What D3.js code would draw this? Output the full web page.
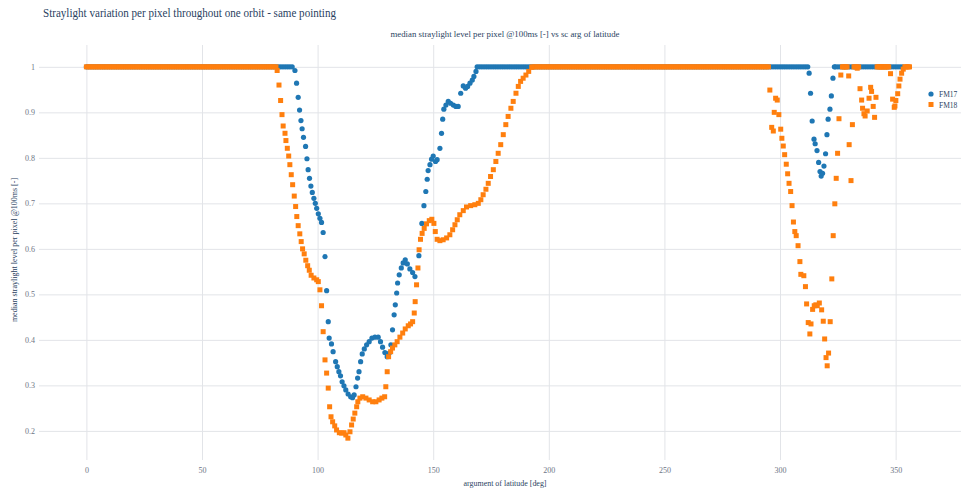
<!DOCTYPE html>
<html>
<head>
<meta charset="utf-8">
<script src="https://cdn.jsdelivr.net/npm/d3@7"></script>
<style>
  html, body { margin: 0; padding: 0; background: #fff; overflow: hidden; }
  svg { display: block; }
</style>
</head>
<body>
<svg id="chart" width="961" height="489"></svg>
<script>
// ---- Data -----------------------------------------------------------------
const seriesNames = ["FM17", "FM18"];
const xTicks = [0, 50, 100, 150, 200, 250, 300, 350];
const yTicks = [0.2, 0.3, 0.4, 0.5, 0.6, 0.7, 0.8, 0.9, 1];

// Arguments of latitude [deg] where the median level is saturated at 1
const fm17Saturated = [
  0,1,2,3,4,5,6,7,8,9,10,11,12,13,14,15,16,17,18,19,20,21,22,23,24,25,26,27,28,29,
  30,31,32,33,34,35,36,37,38,39,40,41,42,43,44,45,46,47,48,49,50,51,52,53,54,55,56,57,58,59,
  60,61,62,63,64,65,66,67,68,69,70,71,72,73,74,75,76,77,78,79,80,81,82,83,84,85,86,87,88,89,
  169,170,171,172,173,174,175,176,177,178,179,180,181,182,183,184,185,186,187,188,189,190,
  191,192,193,194,195,196,197,198,199,200,201,202,203,204,205,206,207,208,209,210,211,212,
  213,214,215,216,217,218,219,220,221,222,223,224,225,226,227,228,229,230,231,232,233,234,
  235,236,237,238,239,240,241,242,243,244,245,246,247,248,249,250,251,252,253,254,255,256,
  257,258,259,260,261,262,263,264,265,266,267,268,269,270,271,272,273,274,275,276,277,278,
  279,280,281,282,283,284,285,286,287,288,289,290,291,292,293,294,295,296,297,298,299,300,
  301,302,303,304,305,306,307,308,309,310,311,312,
  323.5,324,325,326,327,328,329,330,331,332,333,334,335,336,337,338,339,340,341,342,343,
  344,345,346,347,348,349,350,351,352,353
];
const fm18Saturated = [
  0,1,2,3,4,5,6,7,8,9,10,11,12,13,14,15,16,17,18,19,20,21,22,23,24,25,26,27,28,29,
  30,31,32,33,34,35,36,37,38,39,40,41,42,43,44,45,46,47,48,49,50,51,52,53,54,55,56,57,58,59,
  60,61,62,63,64,65,66,67,68,69,70,71,72,73,74,75,76,77,78,79,80,81,82,
  193,194,195,196,197,198,199,200,201,202,203,204,205,206,207,208,209,210,211,212,
  213,214,215,216,217,218,219,220,221,222,223,224,225,226,227,228,229,230,231,232,233,234,
  235,236,237,238,239,240,241,242,243,244,245,246,247,248,249,250,251,252,253,254,255,256,
  257,258,259,260,261,262,263,264,265,266,267,268,269,270,271,272,273,274,275,276,277,278,
  279,280,281,282,283,284,285,286,287,288,289,290,291,292,293,294,295,
  327,327.5,328,328.5,329,332,332.5,333,334,342,342.5,343,343.5,344,344.5,345,345.5,346,
  346.5,347,354,354.5,355,355.5,356
];

// [argument of latitude, median level] below saturation
const fm17Points = [
  [90.2,0.992],[90.9,0.964],[91.6,0.933],[92.2,0.905],[92.8,0.882],[93.3,0.864],[93.9,0.845],
  [94.8,0.825],[95.4,0.798],[95.9,0.774],[96.5,0.755],[97.1,0.738],[97.7,0.724],[98.4,0.711],
  [99.0,0.700],[99.6,0.689],[100.3,0.677],[101.0,0.667],[101.7,0.658],[102.4,0.636],[103.2,0.583],
  [103.9,0.508],[104.6,0.440],[105.0,0.404],[106.0,0.391],[106.7,0.374],[107.8,0.352],[108.5,0.341],
  [109.2,0.330],[109.9,0.321],[110.6,0.308],[111.4,0.299],[112.2,0.290],[113.2,0.281],[114.3,0.275],
  [115.1,0.273],[115.8,0.279],[116.6,0.297],[117.3,0.316],[117.9,0.330],[118.6,0.352],[119.3,0.369],
  [120.2,0.380],[121.2,0.389],[122.3,0.396],[123.5,0.404],[124.8,0.406],[126.2,0.406],[127.2,0.396],
  [128.1,0.384],[129.1,0.372],[130.1,0.363],[131.0,0.371],[131.7,0.389],[132.4,0.422],[133.1,0.455],
  [133.6,0.477],[134.2,0.503],[134.6,0.525],[135.3,0.543],[136.2,0.558],[137.0,0.569],[137.9,0.576],
  [138.8,0.567],[139.9,0.556],[141.1,0.548],[142.1,0.539],[143.8,0.585],[145.1,0.656],[146.0,0.695],
  [146.8,0.726],[147.4,0.753],[147.8,0.772],[148.6,0.785],[149.3,0.797],[150.0,0.804],[151.0,0.792],
  [151.7,0.796],[152.9,0.821],[153.6,0.854],[154.1,0.885],[154.6,0.907],[155.5,0.916],[156.5,0.924],
  [157.5,0.920],[158.7,0.916],[159.8,0.913],[160.8,0.913],[161.9,0.942],[163.0,0.958],[164.0,0.953],
  [164.9,0.957],[165.9,0.964],[166.9,0.971],[167.6,0.979],[168.5,0.990],
  [312.6,0.986],[313.2,0.942],[313.9,0.881],[314.7,0.841],[315.2,0.831],[316.0,0.816],[316.7,0.790],
  [317.3,0.770],[317.8,0.760],[318.4,0.766],[319.0,0.782],[319.7,0.809],[320.3,0.851],[320.8,0.885],
  [321.6,0.907],[322.2,0.936],[322.9,0.975]
];
const fm18Points = [
  [82.5,0.992],[83.3,0.960],[84.0,0.926],[84.6,0.895],[85.1,0.870],[85.9,0.854],[86.3,0.838],
  [86.9,0.821],[87.5,0.804],[88.0,0.785],[88.6,0.763],[89.2,0.741],[89.9,0.716],[90.5,0.693],
  [91.0,0.671],[91.6,0.651],[92.3,0.633],[92.9,0.616],[93.5,0.600],[94.2,0.589],[94.9,0.575],
  [95.7,0.563],[96.4,0.553],[97.2,0.542],[98.4,0.536],[99.6,0.532],[100.3,0.528],[101.0,0.510],
  [101.7,0.475],[102.4,0.418],[103.2,0.356],[103.9,0.327],[104.6,0.294],[105.2,0.253],[105.8,0.231],
  [106.5,0.220],[107.4,0.211],[108.2,0.202],[109.4,0.196],[110.4,0.195],[111.4,0.196],[112.2,0.191],
  [113.1,0.184],[114.0,0.198],[114.7,0.213],[115.4,0.226],[116.1,0.239],[116.9,0.253],[117.4,0.264],
  [118.3,0.272],[119.5,0.275],[120.9,0.272],[122.3,0.268],[123.8,0.264],[125.2,0.264],[126.6,0.268],
  [127.8,0.272],[129.0,0.275],[129.5,0.297],[130.1,0.330],[130.7,0.363],[131.6,0.374],[132.4,0.382],
  [133.4,0.389],[134.4,0.396],[135.6,0.406],[136.8,0.415],[137.9,0.424],[139.2,0.431],[140.2,0.435],
  [141.1,0.440],[141.8,0.459],[142.2,0.484],[142.8,0.521],[143.4,0.558],[143.9,0.598],[144.5,0.621],
  [145.2,0.634],[146.1,0.645],[147.1,0.655],[148.3,0.662],[149.4,0.665],[150.3,0.656],[150.9,0.638],
  [151.7,0.621],[152.9,0.618],[154.3,0.620],[155.8,0.624],[157.2,0.631],[158.4,0.642],[159.4,0.653],
  [160.4,0.664],[161.5,0.675],[163.0,0.684],[164.4,0.692],[166.2,0.695],[168.0,0.697],[169.5,0.700],
  [170.6,0.708],[171.6,0.719],[172.8,0.731],[173.8,0.744],[174.8,0.759],[176.0,0.774],[177.1,0.792],
  [178.1,0.810],[179.2,0.829],[180.3,0.851],[181.4,0.873],[182.4,0.891],[183.6,0.909],[184.6,0.924],
  [185.8,0.942],[186.8,0.957],[187.8,0.968],[188.9,0.975],[190.1,0.982],[191.3,0.990],[192.6,0.999],
  [295.6,0.949],[296.4,0.867],[297.1,0.859],[297.5,0.900],[298.1,0.931],[298.8,0.927],[299.5,0.895],
  [300.3,0.863],[300.8,0.843],[301.4,0.826],[302.0,0.807],[302.7,0.786],[303.3,0.765],[303.9,0.744],
  [304.6,0.726],[305.2,0.695],[305.8,0.659],[306.4,0.638],[307.0,0.629],[307.8,0.607],[308.6,0.572],
  [309.0,0.544],[310.3,0.541],[311.0,0.517],[311.5,0.479],[312.2,0.438],[312.9,0.413],[313.4,0.435],
  [314.1,0.467],[314.8,0.475],[315.5,0.477],[316.1,0.475],[317.0,0.481],[318.0,0.466],[318.7,0.441],
  [319.3,0.402],[319.9,0.361],[320.4,0.343],[321.0,0.371],[321.7,0.440],[322.4,0.534],[323.0,0.629],
  [323.7,0.699],[324.3,0.755],[324.9,0.810],[325.5,0.886],[326.3,0.982],[329.7,0.980],[329.9,0.829],
  [330.7,0.750],[331.3,0.873],[333.4,0.997],[334.6,0.952],[335.3,0.927],[335.7,0.909],[336.3,0.897],
  [336.8,0.892],[337.7,0.903],[338.5,0.931],[339.2,0.955],[339.6,0.946],[340.3,0.913],[340.9,0.889],
  [341.5,0.933],[347.8,0.985],[348.7,0.929],[349.4,0.911],[349.7,0.914],[350.1,0.926],[350.9,0.941],
  [351.4,0.958],[351.9,0.973],[352.6,0.986],[353.3,0.995]
];

// ---- Layout ---------------------------------------------------------------
const FONT = "'Liberation Serif', 'Times New Roman', serif";
const TEXT = "#2a3f5f";
const TICK = "#6e7585";
const GRID = "#e2e4e8";
const COLORS = ["#1f77b4", "#ff7f0e"];
const plot = { left: 39, right: 971, top: 45, bottom: 460 };

const svg = d3.select("#chart");
svg.append("rect").attr("width", 961).attr("height", 489).attr("fill", "#fff");

const x = d3.scaleLinear().domain([-20.5, 382.6]).range([plot.left, plot.right]);
const y = d3.scaleLinear().domain([0.136, 1.048]).range([plot.bottom, plot.top]);
const fmt = d3.format("~g");

// Grid + tick labels
const xAxis = svg.append("g")
  .attr("transform", `translate(0,${plot.bottom})`)
  .call(d3.axisBottom(x).tickValues(xTicks).tickFormat(fmt)
    .tickSize(-(plot.bottom - plot.top)).tickPadding(7));
const yAxis = svg.append("g")
  .attr("transform", `translate(${plot.left},0)`)
  .call(d3.axisLeft(y).tickValues(yTicks).tickFormat(fmt)
    .tickSize(-(plot.right - plot.left)).tickPadding(4));

[xAxis, yAxis].forEach(g => {
  g.select(".domain").remove();
  g.selectAll(".tick line").attr("stroke", GRID).attr("stroke-width", 1);
  g.selectAll(".tick text")
    .attr("fill", TICK)
    .style("font-family", FONT)
    .style("font-size", "8px");
});

// Markers: FM17 circles, FM18 squares drawn on top
const toRows = (sat, pts) => sat.map(a => [a, 1]).concat(pts);
const fm17 = toRows(fm17Saturated, fm17Points);
const fm18 = toRows(fm18Saturated, fm18Points);

svg.append("g").selectAll("circle").data(fm17).join("circle")
  .attr("cx", d => x(d[0])).attr("cy", d => y(d[1])).attr("r", 2.6)
  .attr("fill", COLORS[0]);

const sq = 5;
svg.append("g").selectAll("rect").data(fm18).join("rect")
  .attr("x", d => x(d[0]) - sq / 2).attr("y", d => y(d[1]) - sq / 2)
  .attr("width", sq).attr("height", sq)
  .attr("fill", COLORS[1]);

// Titles
svg.append("text")
  .attr("x", 43).attr("y", 17)
  .attr("textLength", 293).attr("lengthAdjust", "spacingAndGlyphs")
  .style("font-family", FONT).style("font-size", "12.5px").attr("fill", TEXT)
  .text("Straylight variation per pixel throughout one orbit - same pointing");

svg.append("text")
  .attr("x", 505).attr("y", 36.5).attr("text-anchor", "middle")
  .attr("textLength", 229).attr("lengthAdjust", "spacingAndGlyphs")
  .style("font-family", FONT).style("font-size", "9px").attr("fill", TEXT)
  .text("median straylight level per pixel @100ms [-] vs sc arg of latitude");

svg.append("text")
  .attr("x", 505).attr("y", 486).attr("text-anchor", "middle")
  .attr("textLength", 83).attr("lengthAdjust", "spacingAndGlyphs")
  .style("font-family", FONT).style("font-size", "8.5px").attr("fill", TEXT)
  .text("argument of latitude [deg]");

svg.append("text")
  .attr("transform", "translate(17,250) rotate(-90)").attr("text-anchor", "middle")
  .style("font-family", FONT).style("font-size", "8px").attr("fill", TEXT)
  .text("median straylight level per pixel @100ms [-]");

// Legend
const legend = svg.append("g").attr("transform", "translate(931,0)");
legend.append("rect").attr("x", -6).attr("y", 86).attr("width", 36).attr("height", 26).attr("fill", "#fff");
legend.append("circle").attr("cx", 0).attr("cy", 94).attr("r", 2.6).attr("fill", COLORS[0]);
legend.append("rect").attr("x", -sq / 2).attr("y", 104.5 - sq / 2).attr("width", sq).attr("height", sq).attr("fill", COLORS[1]);
legend.selectAll("text.lbl").data(seriesNames).join("text").attr("class", "lbl")
  .attr("x", 8).attr("y", (d, i) => 97 + i * 10.5)
  .style("font-family", FONT).style("font-size", "7.5px").attr("fill", TEXT)
  .text(d => d);
</script>
</body>
</html>
